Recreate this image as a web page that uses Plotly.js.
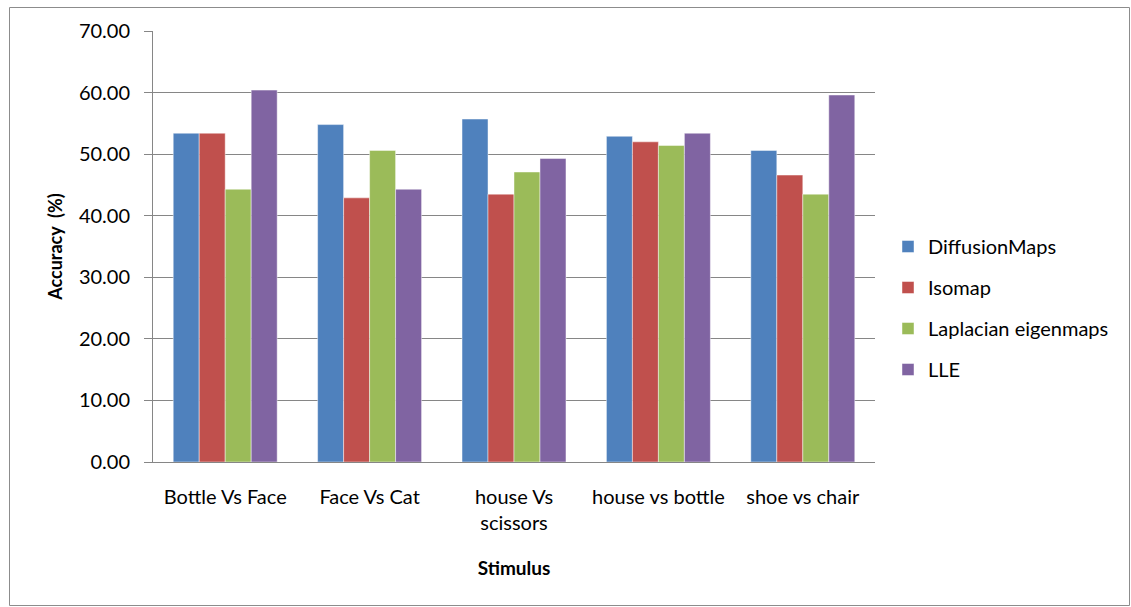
<!DOCTYPE html>
<html>
<head>
<meta charset="utf-8">
<script src="https://cdn.plot.ly/plotly-3.0.1.min.js"></script>
<style>
  html, body { margin: 0; padding: 0; background: #fff; }
  #chart { width: 1131px; height: 607px; }
</style>
</head>
<body>
<div id="chart"></div>
<script>
// Stimulus pairs on the category axis
const stimuli = ["Bottle Vs Face", "Face Vs Cat", "house Vs<br>scissors", "house vs bottle", "shoe vs chair"];

// Classification accuracy (%) per embedding method
const diffusionMaps = [53.4, 54.8, 55.7, 52.9, 50.6];
const isomap        = [53.4, 42.9, 43.5, 52.0, 46.6];
const laplacian     = [44.3, 50.6, 47.1, 51.4, 43.5];
const lle           = [60.4, 44.3, 49.3, 53.4, 59.6];

const seriesNames = ["DiffusionMaps", "Isomap", "Laplacian eigenmaps", "LLE"];
const seriesValues = [diffusionMaps, isomap, laplacian, lle];
const seriesColors = ["#4F81BD", "#C0504D", "#9BBB59", "#8064A2"];

const FONT = "Lato, Carlito, Calibri, sans-serif";
const W = 1131, H = 607;
const margin = { l: 153, r: 256, t: 31, b: 145 };
const pw = W - margin.l - margin.r;
const ph = H - margin.t - margin.b;

const traces = seriesNames.map((name, i) => ({
  type: "bar",
  name: name,
  x: stimuli,
  y: seriesValues[i],
  legendgroup: "g" + i,
  marker: {
    color: seriesColors[i],
    line: { color: "rgba(255,255,255,0.45)", width: 1 }
  },
  hoverinfo: "x+y+name"
}));

// outer frame of the chart area, expressed in paper units
const px2x = p => (p - margin.l) / pw;
const px2y = p => (H - margin.b - p) / ph;

const layout = {
  width: W,
  height: H,
  margin: margin,
  paper_bgcolor: "#ffffff",
  plot_bgcolor: "#ffffff",
  font: { family: FONT, size: 20, color: "#000000" },
  barmode: "group",
  bargap: 0.28,
  bargroupgap: 0,
  showlegend: true,
  legend: {
    x: px2x(888),
    xanchor: "left",
    y: px2y(308),
    yanchor: "middle",
    font: { family: FONT, size: 20, color: "#000000" },
    tracegroupgap: 12,
    bgcolor: "rgba(0,0,0,0)"
  },
  xaxis: {
    type: "category",
    showline: true,
    linecolor: "#868686",
    linewidth: 1,
    ticks: "",
    showgrid: false,
    tickfont: { family: FONT, size: 20, color: "#000000" },
    ticklabelstandoff: 17,
    title: {
      text: "Stimulus",
      font: { family: FONT, size: 19, color: "#000000", weight: "bold" },
      standoff: 28
    },
    automargin: false,
    fixedrange: true
  },
  yaxis: {
    range: [0, 70],
    dtick: 10,
    tickformat: ".2f",
    showline: true,
    linecolor: "#868686",
    linewidth: 1,
    ticks: "outside",
    ticklen: 8,
    tickcolor: "#868686",
    ticklabelstandoff: 10,
    showgrid: true,
    gridcolor: "#868686",
    gridwidth: 1,
    zeroline: false,
    tickfont: { family: FONT, size: 20, color: "#000000" },
    title: {
      text: "Accuracy  (%)",
      font: { family: FONT, size: 18, color: "#000000", weight: "bold" },
      standoff: 11
    },
    automargin: false,
    fixedrange: true
  },
  shapes: [{
    type: "rect",
    xref: "paper", yref: "paper",
    x0: px2x(9.5), x1: px2x(1129.5),
    y0: px2y(605.5), y1: px2y(7.5),
    line: { color: "#8c8c8c", width: 1 },
    fillcolor: "rgba(0,0,0,0)",
    layer: "below"
  }]
};

Plotly.newPlot("chart", traces, layout, { displayModeBar: false, staticPlot: true });
</script>
</body>
</html>
